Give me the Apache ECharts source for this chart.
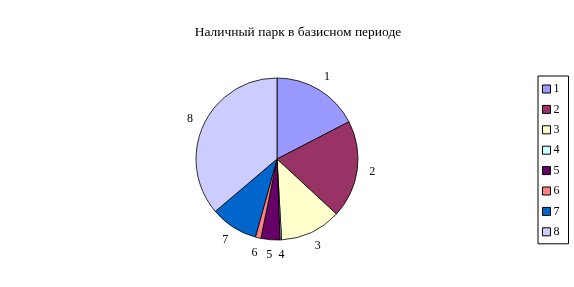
<!DOCTYPE html>
<html><head><meta charset="utf-8">
<script src="https://cdn.jsdelivr.net/npm/echarts@6/dist/echarts.min.js"></script>
<style>html,body{margin:0;padding:0;background:#fff}#c{width:574px;height:287px}</style>
</head><body><div id="c"></div>
<script>
const titleText = 'Наличный парк в базисном периоде';
const categories = ['1','2','3','4','5','6','7','8'];
const values = [17.4, 19.5, 12.2, 0.3, 3.8, 1.1, 9.5, 36.2];
const colors = ['#9999FF','#993366','#FFFFCC','#CCFFFF','#660066','#FF8080','#0066CC','#CCCCFF'];

const font = '"Liberation Serif","Times New Roman",serif';
const chart = echarts.init(document.getElementById('c'), null, {renderer:'canvas'});
const mainData = categories.map((c,i)=>({name:c, value:values[i], itemStyle:{color:colors[i]}}));
const labelData = categories.map((c,i)=>({name:c, value:values[i]}));
chart.setOption({
  animation:false,
  backgroundColor:'#fff',
  graphic:[{type:'text', x:298, y:32, style:{text:titleText, fontFamily:font, fontSize:13.5, fill:'#000', textAlign:'center', textVerticalAlign:'middle'}}],
  legend:{
    orient:'vertical', left:538, top:76,
    padding:[7,9,6,4], itemGap:8.4, itemWidth:8, itemHeight:8,
    borderColor:'#000', borderWidth:1,
    icon:'rect',
    itemStyle:{borderColor:'#000', borderWidth:1},
    textStyle:{fontFamily:font, fontSize:12, color:'#000', lineHeight:12, padding:[0,0,0,-2]},
    data:categories
  },
  series:[{
    type:'pie', center:[277,159], radius:81, startAngle:90, clockwise:true,
    data:mainData, label:{show:false}, labelLine:{show:false},
    itemStyle:{borderColor:'#000', borderWidth:0.8},
    emphasis:{disabled:true}, silent:true
  },{
    type:'pie', center:[277,159], radius:[81,105], startAngle:90, clockwise:true,
    data:labelData, itemStyle:{color:'rgba(0,0,0,0)', borderWidth:0},
    label:{show:true, position:'inside', formatter:'{b}', fontFamily:font, fontSize:12, color:'#000'},
    labelLine:{show:false}, emphasis:{disabled:true}, silent:true
  }]
});
</script></body></html>
